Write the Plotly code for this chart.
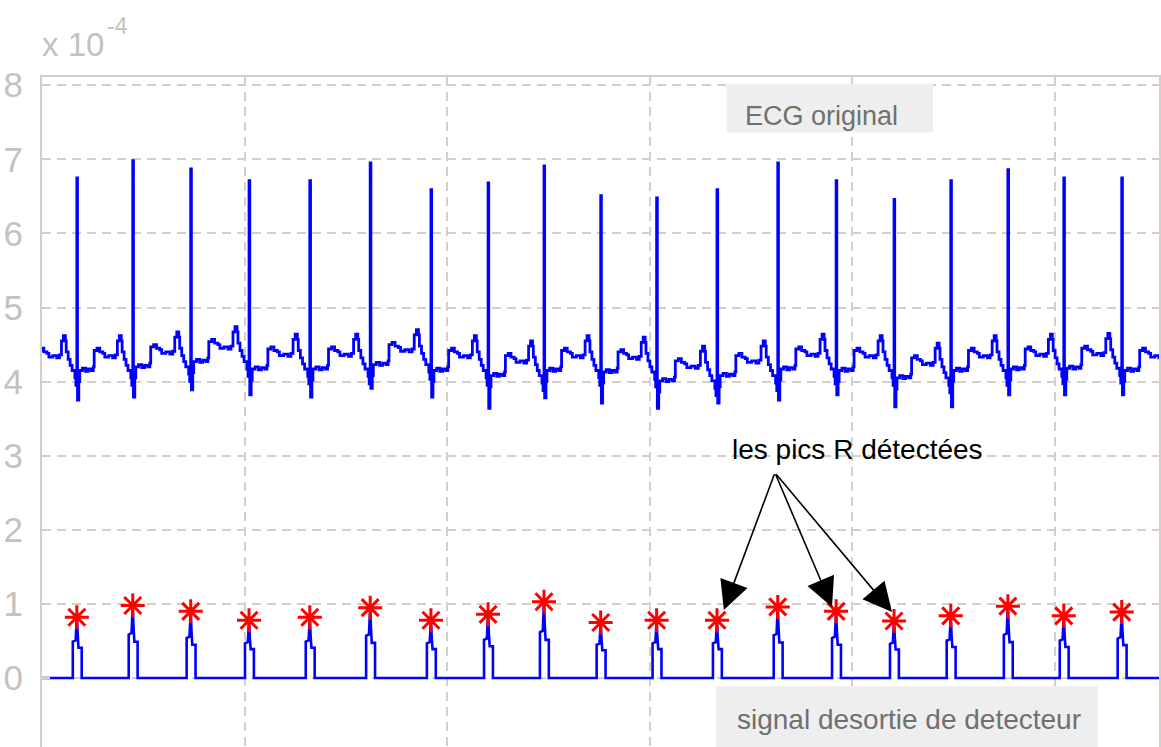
import plotly.graph_objects as go

# ---------------------------------------------------------------------------
# Data (amplitudes in units of 1e-4, time axis in samples)
# ---------------------------------------------------------------------------
r_peaks = [86, 224, 367, 511, 661, 810, 960, 1101, 1239, 1379,
           1517, 1666, 1816, 1960, 2103, 2243, 2384, 2522, 2665]
r_amp = [6.75, 6.98, 6.87, 6.71, 6.71, 6.95, 6.59, 6.68, 6.91, 6.51,
         6.48, 6.59, 6.95, 6.71, 6.46, 6.71, 6.86, 6.75, 6.75]
s_amp = [3.75, 3.79, 3.89, 3.82, 3.79, 3.91, 3.79, 3.64, 3.78, 3.71,
         3.64, 3.71, 3.75, 3.82, 3.66, 3.66, 3.82, 3.82, 3.82]
base_shift = [0.0, 0.05, 0.12, 0.02, 0.02, 0.08, 0.0, -0.07, 0.0, -0.02,
              -0.14, -0.07, 0.02, 0.0, -0.10, 0.0, 0.02, 0.03, 0.0]
# detector output at each detected R peak
det_amp = [0.82, 0.98, 0.90, 0.78, 0.82, 0.95, 0.78, 0.86, 1.03, 0.75,
           0.78, 0.78, 0.96, 0.90, 0.77, 0.84, 0.97, 0.84, 0.89]

# one cardiac cycle between consecutive R peaks: phase (0..1) and level
cycle_phase = [0.035, 0.052, 0.10, 0.155, 0.205, 0.26, 0.295, 0.31, 0.36,
               0.41, 0.465, 0.50, 0.57, 0.64, 0.69, 0.725, 0.76, 0.795,
               0.81, 0.845, 0.88, 0.915, 0.93, 0.965, 0.983]
cycle_level = [4.00, 4.15, 4.18, 4.14, 4.17, 4.15, 4.20, 4.42, 4.45,
               4.40, 4.38, 4.33, 4.35, 4.32, 4.36, 4.55, 4.62, 4.55,
               4.40, 4.30, 4.22, 4.15, 4.15, 4.05, 3.95]

# detector pulse around each peak: sample offset and fraction of the peak
pulse_offset = [-10, -10, -3, 0, 2, 4, 12, 12]
pulse_frac = [0.0, 0.6, 0.62, 1.0, 0.7, 0.5, 0.5, 0.0]

y_ticks = [0, 1, 2, 3, 4, 5, 6, 7, 8]
x_ticks = [0, 500, 1000, 1500, 2000, 2500]
x_end = 2757

# ---------------------------------------------------------------------------
# Build traces
# ---------------------------------------------------------------------------
bounds = ([r_peaks[0] - (r_peaks[1] - r_peaks[0])] + r_peaks
          + [r_peaks[-1] + (r_peaks[-1] - r_peaks[-2])])

ecg_x, ecg_y = [], []
for k in range(len(bounds) - 1):
    start, stop = bounds[k], bounds[k + 1]
    beat = k - 1
    shift = base_shift[max(beat, 0)]
    span = stop - start
    if beat >= 0:
        ecg_x += [start, start + 0.012 * span]
        ecg_y += [r_amp[beat], s_amp[beat]]
    for ph, lv in zip(cycle_phase, cycle_level):
        ecg_x.append(start + ph * span)
        ecg_y.append(lv + shift)

det_x, det_y = [x_ticks[0]], [0.0]
for r, a in zip(r_peaks, det_amp):
    for off, fr in zip(pulse_offset, pulse_frac):
        det_x.append(r + off)
        det_y.append(a * fr)
det_x.append(x_end)
det_y.append(0.0)

BLUE = "#0000ff"
GRID = "#d4d0c8"
LABEL = "#c4c2bc"
FONT = "Liberation Sans, Arial, sans-serif"

fig = go.Figure()
fig.add_trace(go.Scatter(x=ecg_x, y=ecg_y, mode="lines", line_shape="hv",
                         line=dict(color=BLUE, width=2.8), hoverinfo="skip"))
fig.add_trace(go.Scatter(x=det_x, y=det_y, mode="lines",
                         line=dict(color=BLUE, width=2.6), hoverinfo="skip"))
fig.add_trace(go.Scatter(x=r_peaks, y=det_amp, mode="markers",
                         marker=dict(symbol="asterisk-open", size=20, color="red",
                                     line=dict(color="red", width=3))))

# text boxes
fig.add_shape(type="rect", xref="x", yref="y", x0=1690, x1=2199, y0=7.36, y1=8.02,
              fillcolor="#eeeeee", line_width=0, layer="above")
fig.add_shape(type="rect", xref="x", yref="y", x0=1663, x1=2606, y0=-1.2, y1=-0.11,
              fillcolor="#eeeeee", line_width=0, layer="above")

fig.add_annotation(x=1730, y=7.59, xref="x", yref="y", text="ECG original",
                   showarrow=False, xanchor="left", yanchor="middle",
                   font=dict(family=FONT, size=27, color="#707070"))
fig.add_annotation(x=1710, y=-0.56, xref="x", yref="y",
                   text="signal desortie de detecteur",
                   showarrow=False, xanchor="left", yanchor="middle",
                   font=dict(family=FONT, size=28, color="#707070"))
fig.add_annotation(x=1698, y=3.09, xref="x", yref="y", text="les pics R détectées",
                   showarrow=False, xanchor="left", yanchor="middle",
                   font=dict(family=FONT, size=28, color="black"))

# arrows from the label to three detected peaks
for hx, hy in [(1683, 0.92), (1950, 0.96), (2098, 0.89)]:
    fig.add_annotation(x=hx, y=hy, ax=1809, ay=2.77, xref="x", yref="y",
                       axref="x", ayref="y", text="", showarrow=True,
                       arrowhead=2, arrowsize=3.6, arrowwidth=1.6,
                       arrowcolor="black", standoff=0, startstandoff=0)

# axis exponent: "x 10" with a raised "-4"
fig.add_annotation(x=0, y=1.049, xref="paper", yref="paper",
                   text="x 10", showarrow=False,
                   xanchor="left", yanchor="middle", xshift=-2,
                   font=dict(family=FONT, size=33, color=LABEL))
fig.add_annotation(x=0.0565, y=1.0754, xref="paper", yref="paper",
                   text="-4", showarrow=False,
                   xanchor="left", yanchor="middle",
                   font=dict(family=FONT, size=23, color=LABEL))

fig.update_layout(
    width=1161, height=747,
    margin=dict(l=42, r=2, t=77, b=0),
    paper_bgcolor="white", plot_bgcolor="white",
    showlegend=False,
    xaxis=dict(range=[0, x_end], side="top", tickvals=x_ticks, showticklabels=False,
               showline=True, linecolor=GRID, linewidth=2, mirror=False,
               ticks="inside", ticklen=8, tickwidth=2, tickcolor=GRID,
               showgrid=True, gridcolor=GRID, gridwidth=2, griddash="9px,6px",
               zeroline=False),
    yaxis=dict(range=[-0.93, 8.11], tickvals=y_ticks,
               showline=True, linecolor=GRID, linewidth=2, mirror=True,
               ticks="inside", ticklen=8, tickwidth=2, tickcolor=GRID,
               showgrid=True, gridcolor=GRID, gridwidth=2, griddash="9px,6px",
               zeroline=False, ticklabelstandoff=10,
               tickfont=dict(family=FONT, size=35, color=LABEL)),
)

fig.write_html("out.html")
